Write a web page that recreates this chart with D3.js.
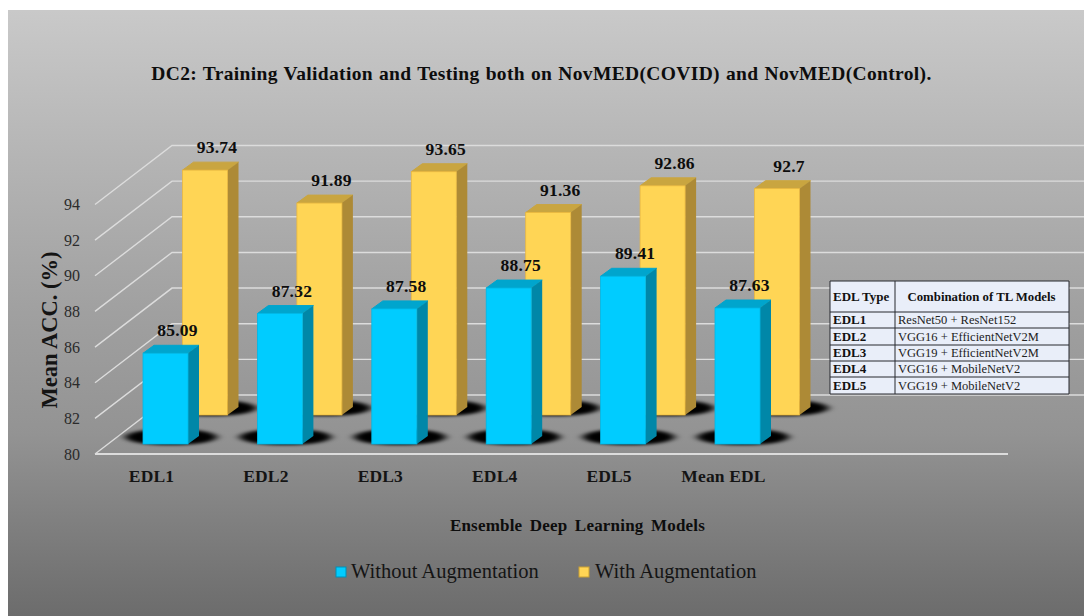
<!DOCTYPE html>
<html><head><meta charset="utf-8">
<script src="https://cdn.jsdelivr.net/npm/d3@7/dist/d3.min.js"></script>
<style>html,body{margin:0;padding:0;background:#fff;overflow:hidden}svg{display:block}text{font-family:"Liberation Serif","Times New Roman",serif}</style>
</head><body><div id="c"></div>
<script>
const categories=["EDL1","EDL2","EDL3","EDL4","EDL5","Mean EDL"];
const withoutAug=[85.09,87.32,87.58,88.75,89.41,87.63];
const withAug=[93.74,91.89,93.65,91.36,92.86,92.7];
const labelsWith=["93.74","91.89","93.65","91.36","92.86","92.7"];
const labelsWithout=["85.09","87.32","87.58","88.75","89.41","87.63"];
const yTicks=[80,82,84,86,88,90,92,94];
const tableHeader=["EDL Type","Combination of TL Models"];
const tableTypes=["EDL1","EDL2","EDL3","EDL4","EDL5"];
const tableModels=["ResNet50 + ResNet152","VGG16 + EfficientNetV2M","VGG19 + EfficientNetV2M","VGG16 + MobileNetV2","VGG19 + MobileNetV2"];
const legendNames=["Without Augmentation","With Augmentation"];

const W=1084,H=616;
const svg=d3.select("#c").append("svg").attr("width",W).attr("height",H);
const defs=svg.append("defs");
const grad=defs.append("linearGradient").attr("id","bg").attr("x1",0).attr("y1",0).attr("x2",0).attr("y2",1);
[[0,"#c9c9c9"],[.25,"#b4b4b4"],[.5,"#a0a0a0"],[.7,"#939393"],[.85,"#7f7f7f"],[1,"#6c6c6c"]].forEach(s=>grad.append("stop").attr("offset",s[0]).attr("stop-color",s[1]));
defs.append("filter").attr("id","blur").attr("x","-30%").attr("y","-100%").attr("width","160%").attr("height","300%")
  .append("feGaussianBlur").attr("stdDeviation","4 1.5");
svg.append("rect").attr("x",8).attr("y",10).attr("width",W-8).attr("height",H-10).attr("fill","url(#bg)");

const y=d3.scaleLinear().domain([80,94]).range([454,204.5]);
const x=d3.scalePoint().domain(categories).range([143,143+5*114.4]);
const depth={dx:77,dy:-59};
const barW=45,sideX=11,sideY=8;

// grid
const grid=svg.append("g").attr("fill","none").attr("stroke","#dcdcdc").attr("stroke-width",1.4);
grid.selectAll("path").data(yTicks).join("path")
  .attr("d",t=>`M95,${y(t)}L${95+depth.dx},${y(t)+depth.dy}L${W},${y(t)+depth.dy}`);
grid.append("line").attr("x1",95).attr("x2",1008).attr("y1",y(80)).attr("y2",y(80)).attr("stroke-width",1.8);

function series(vals,labels,ox,oy,c){
  const g=svg.append("g");
  g.selectAll(".s").data(categories).join("ellipse").attr("class","s")
    .attr("cx",d=>x(d)+ox+28).attr("cy",y(80)+oy-7).attr("rx",46).attr("ry",8)
    .attr("fill","#000").attr("filter","url(#blur)");
  const bars=g.selectAll(".b").data(categories).join("g").attr("class","b");
  const X=d=>x(d)+ox, T=(d,i)=>y(vals[i])+oy, B=y(80)+oy;
  bars.append("path").attr("fill",c.top).attr("stroke",c.top).attr("stroke-width",1).attr("stroke-linejoin","round").attr("d",(d,i)=>`M${X(d)},${T(d,i)}l${sideX},${-sideY}h${barW}l${-sideX},${sideY}z`);
  bars.append("path").attr("fill",c.side).attr("d",(d,i)=>`M${X(d)+barW},${T(d,i)}l${sideX},${-sideY}V${B-sideY}l${-sideX},${sideY}z`);
  bars.append("rect").attr("x",X).attr("y",T).attr("width",barW).attr("height",(d,i)=>B-T(d,i)).attr("fill",c.front).attr("stroke",c.edge).attr("stroke-width",.8);
  return ()=>g.selectAll(".l").data(categories).join("text").attr("class","l")
    .attr("x",d=>X(d)+34.5).attr("y",(d,i)=>T(d,i)-sideY-9)
    .attr("text-anchor","middle").attr("font-size",17.5).attr("letter-spacing",.2).attr("font-weight","bold").attr("fill","#0d0d0d")
    .text((d,i)=>labels[i]);
}
const lblY=series(withAug,labelsWith,39.5,-39,{front:"#ffd555",edge:"#ecb93f",side:"#ad8a36",top:"#c9a540"});
const lblB=series(withoutAug,labelsWithout,0,-10,{front:"#00ccff",edge:"#00b8e6",side:"#0087a8",top:"#00a5cd"});
lblY();lblB();

// axes
const ya=svg.append("g").attr("transform","translate(80,0)").call(d3.axisLeft(y).tickValues(yTicks).tickSize(0).tickPadding(0).tickFormat(d3.format("d")));
ya.select(".domain").remove();
ya.selectAll("text").attr("font-size",16).attr("fill","#2b2b2b").style("font-family",'"Liberation Serif",serif');
const xa=svg.append("g").attr("transform","translate(8,470)").call(d3.axisBottom(x).tickSize(0).tickPadding(0));
xa.select(".domain").remove();
xa.selectAll("text").attr("font-size",17.5).attr("letter-spacing",.15).attr("font-weight","bold").attr("fill","#141414").style("font-family",'"Liberation Serif",serif');

// titles
svg.append("text").attr("x",541.5).attr("y",80).attr("text-anchor","middle").attr("font-size",19.5).attr("font-weight","bold").attr("fill","#0d0d0d").attr("letter-spacing",.35).attr("word-spacing",.8)
  .text("DC2: Training Validation and Testing both on NovMED(COVID) and NovMED(Control).");
svg.append("text").attr("x",577.5).attr("y",531).attr("text-anchor","middle").attr("font-size",17).attr("font-weight","bold").attr("fill","#0d0d0d").attr("letter-spacing",.2).attr("word-spacing",3)
  .text("Ensemble Deep Learning Models");
svg.append("text").attr("transform","translate(57,330) rotate(-90)").attr("text-anchor","middle").attr("font-size",22.5).attr("font-weight","bold").attr("fill","#141414")
  .text("Mean ACC. (%)");

// legend
const lg=svg.append("g");
[[336,351,"#00ccff","#0090b5"],[579,595,"#ffd555","#c9a035"]].forEach((o,i)=>{
  lg.append("rect").attr("x",o[0]).attr("y",567).attr("width",10).attr("height",10).attr("fill",o[2]).attr("stroke",o[3]).attr("stroke-width",1);
  lg.append("text").attr("x",o[1]).attr("y",578).attr("font-size",20.5).attr("fill","#141414").text(legendNames[i]);
});

// table
const rowEdges=[281,312,328,345,361,377,394];
const t=svg.append("g");
t.append("rect").attr("x",830).attr("y",281).attr("width",239).attr("height",113).attr("fill","#e9eef9");
t.selectAll(".h").data(rowEdges).join("line").attr("class","h").attr("x1",830).attr("x2",1069).attr("y1",d=>d).attr("y2",d=>d).attr("stroke","#26282e").attr("stroke-width",1);
[830,895,1069].forEach(vx=>t.append("line").attr("x1",vx).attr("x2",vx).attr("y1",281).attr("y2",394).attr("stroke","#26282e").attr("stroke-width",1));
t.append("text").attr("x",833).attr("y",301).attr("font-size",13).attr("font-weight","bold").attr("fill","#111").text(tableHeader[0]);
t.append("text").attr("x",981.5).attr("y",301).attr("text-anchor","middle").attr("font-size",12.8).attr("font-weight","bold").attr("fill","#111").text(tableHeader[1]);
tableTypes.forEach((n,i)=>{
  const b=rowEdges[i+2]-4;
  t.append("text").attr("x",833).attr("y",b).attr("font-size",13).attr("font-weight","bold").attr("fill","#111").text(n);
  t.append("text").attr("x",898).attr("y",b).attr("font-size",12.5).attr("fill","#222").text(tableModels[i]);
});
</script></body></html>
